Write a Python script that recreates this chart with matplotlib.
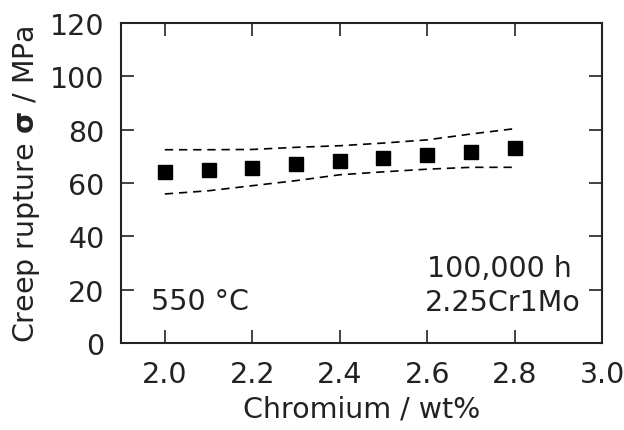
import matplotlib
matplotlib.use("Agg")
import matplotlib.pyplot as plt

chromium = [2.0, 2.1, 2.2, 2.3, 2.4, 2.5, 2.6, 2.7, 2.8]
rupture = [64.0, 64.8, 65.8, 67.0, 68.2, 69.4, 70.6, 71.8, 73.0]
upper = [72.5, 72.5, 72.6, 73.4, 74.0, 75.0, 76.2, 78.4, 80.4]
lower = [55.9, 57.1, 59.0, 60.9, 63.1, 64.2, 65.2, 65.9, 65.9]

xticks = [2.0, 2.2, 2.4, 2.6, 2.8, 3.0]
yticks = [0, 20, 40, 60, 80, 100, 120]

plt.rcParams['font.family'] = ['DejaVu Sans']
plt.rcParams['font.size'] = 20.5

fig = plt.figure(figsize=(6.24, 4.31), dpi=100)
ax = fig.add_axes([0.194, 0.202, 0.771, 0.742])

ax.plot(chromium, upper, color='black', lw=1.2, ls=(0, (5, 3.5)))
ax.plot(chromium, lower, color='black', lw=1.2, ls=(0, (5, 3.5)))
ax.plot(chromium, rupture, ls='none', marker='s', ms=10.5, color='black')

ax.set_xlim(1.9, 3.0)
ax.set_ylim(0, 120)
ax.set_xticks(xticks)
ax.set_xticklabels(['%.1f' % v for v in xticks])
ax.set_yticks(yticks)
ax.tick_params(direction='in', length=9.5, width=1.2, top=True, right=True,
               pad=12, colors='#222222', labelcolor='#222222')
for s in ax.spines.values():
    s.set_linewidth(1.5)
    s.set_color('#222222')

ax.set_xlabel('Chromium / wt%', color='#222222', labelpad=5)
ax.set_ylabel(r'Creep rupture $\mathbf{\sigma}$ / MPa', color='#222222', labelpad=6)

ax.text(1.969, 15.7, '550 °C', ha='left', va='center', color='#222222')
ax.text(2.93, 28, '100,000 h', ha='right', va='center', color='#222222')
ax.text(2.95, 15.3, '2.25Cr1Mo', ha='right', va='center', color='#222222')

fig.savefig('out.png', dpi=100)
